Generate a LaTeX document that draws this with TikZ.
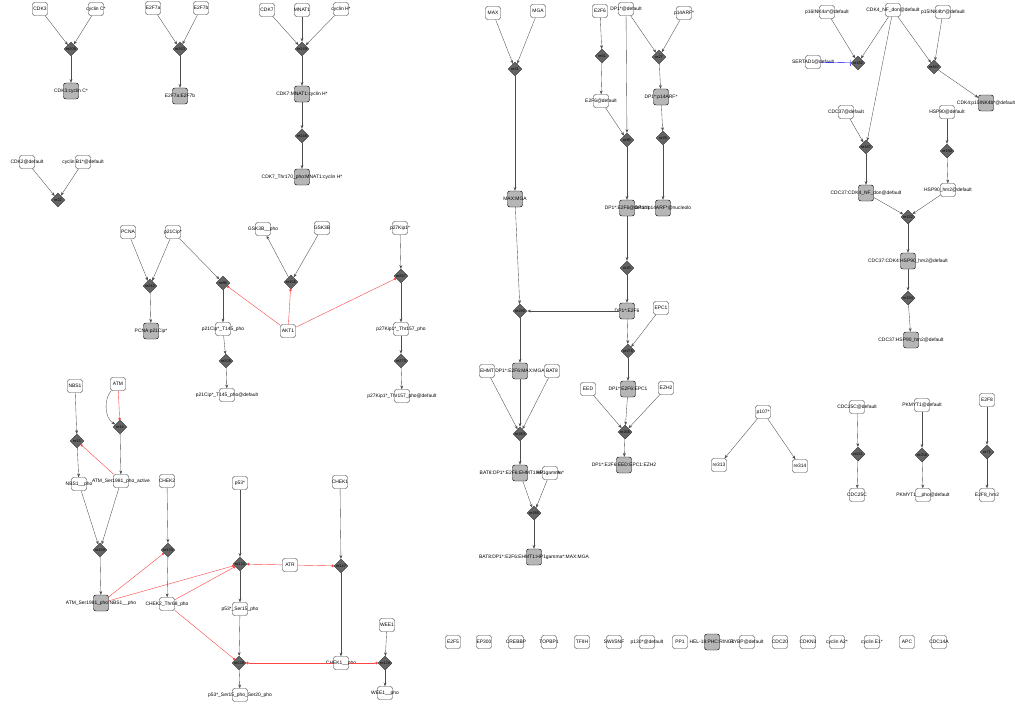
\documentclass[tikz,border=0pt]{standalone}
\usepackage{fontspec}
\setmainfont{Liberation Sans}
\usetikzlibrary{shapes.geometric, arrows.meta}

\definecolor{cpxgray}{RGB}{182,182,182}
\definecolor{rxngray}{RGB}{100,100,100}
\definecolor{catred}{RGB}{255,70,70}

\begin{document}
\begin{tikzpicture}[x=0.03cm, y=-0.03cm, font=\fontsize{4.2}{5}\selectfont,
        spc/.style={rectangle, draw=black!75, fill=white, rounded corners=2pt, line width=0.35pt,
            minimum width=0.45cm, minimum height=0.39cm, inner sep=0pt, label={center:{#1}}},
        cpx/.style={spc=#1, fill=cpxgray, draw=black, minimum height=0.48cm},
        rxn/.style={diamond, draw=black!80, fill=rxngray, minimum size=0.42cm, inner sep=0pt,
            label={[font=\fontsize{3.3}{4}\selectfont]center:{#1}}},
        arr/.style={-{Stealth[length=3.2pt, width=2.4pt]}, draw=black!70, line width=0.3pt},
        cat/.style={-{Circle[length=2.2pt]}, draw=catred, line width=0.35pt},
        inh/.style={-{Bar[width=5pt]}, draw=blue, line width=0.35pt}]

    \useasboundingbox (0,0) rectangle (1015,703);

    % cyclin / CDK complexes, top left
    \node[spc=CDK3] (cdk3) at (40,9) {};
    \node[spc=cyclin C*] (cycc) at (96,9) {};
    \node[rxn=re208] (re208) at (71,49) {};
    \node[cpx=CDK3:cyclin C*] (cdk3cycc) at (71,91) {};

    \node[spc=E2F7a] (e2f7a) at (153,8) {};
    \node[spc=E2F7b] (e2f7b) at (201,8) {};
    \node[rxn=re263] (re263) at (180,49) {};
    \node[cpx=E2F7a:E2F7b] (e2f7ab) at (180,96) {};

    \node[spc=CDK2@default] (cdk2) at (27,162) {};
    \node[spc=cyclin B1*@default] (cycb1) at (83,162) {};
    \node[rxn=re22] (re22) at (58,200) {};

    \node[spc=CDK7] (cdk7) at (267,10) {};
    \node[spc=MNAT1] (mnat1) at (302,10) {};
    \node[spc=cyclin H*] (cych) at (341,9) {};
    \node[rxn=re149] (re149) at (302,49) {};
    \node[cpx=CDK7:MNAT1:cyclin H*] (cak) at (302,94) {};
    \node[rxn=re248] (re248) at (302,136) {};
    \node[cpx=CDK7\_Thr170\_pho:MNAT1:cyclin H*] (cakp) at (302,177) {};

    % CKI and AKT1
    \node[spc=PCNA] (pcna) at (128,232) {};
    \node[spc=p21Cip*] (p21) at (173,232) {};
    \node[rxn=re262] (re262) at (150,286) {};
    \node[cpx=PCNA:p21Cip*] (pcnap21) at (151,331) {};
    \node[rxn=re88] (re88) at (223,283) {};
    \node[spc=p21Cip*\_T145\_pho] (p21p) at (223,329) {};
    \node[rxn=re205] (re205) at (226,361) {};
    \node[spc=p21Cip*\_T145\_pho@default] (p21pd) at (227,395) {};
    \node[spc=GSK3B\_\_pho] (gsk3bp) at (263,229) {};
    \node[spc=GSK3B] (gsk3b) at (322,228) {};
    \node[rxn=re155] (re155) at (291,282) {};
    \node[spc=AKT1] (akt1) at (288,331) {};
    \node[spc=p27Kip1*] (p27) at (400,228) {};
    \node[rxn=re267] (re267) at (401,276) {};
    \node[spc=p27Kip1*\_Thr157\_pho] (p27p) at (401,329) {};
    \node[rxn=re270] (re270) at (401,361) {};
    \node[spc=p27Kip1*\_Thr157\_pho@default] (p27pd) at (402,396) {};

    % DNA damage checkpoint
    \node[spc=NBS1] (nbs1) at (75,386) {};
    \node[spc=ATM] (atm) at (118,384) {};
    \node[rxn=re14] (re14) at (120,427) {};
    \node[rxn=re15] (re15) at (77,441) {};
    \node[spc=NBS1\_\_pho] (nbs1p) at (79,484) {};
    \node[spc=ATM\_Ser1981\_pho\_active] (atma) at (121,481) {};
    \node[spc=CHEK2] (chek2) at (167,481) {};
    \node[rxn=re169] (re169) at (100,550) {};
    \node[rxn=re133] (re133) at (168,550) {};
    \node[cpx=ATM\_Ser1981\_pho:NBS1\_\_pho] (atmnbs) at (101,603) {};
    \node[spc=CHEK2\_Thr68\_pho] (chek2p) at (167,604) {};
    \node[spc=p53*] (p53) at (240,483) {};
    \node[spc=CHEK1] (chek1) at (340,482) {};
    \node[rxn=re132] (re132) at (240,564) {};
    \node[spc=ATR] (atr) at (290,565) {};
    \node[rxn=re147] (re147) at (341,566) {};
    \node[spc=p53*\_Ser15\_pho] (p53p) at (240,609) {};
    \node[spc=WEE1] (wee1) at (387,625) {};
    \node[rxn=re128] (re128) at (239,663) {};
    \node[spc=CHEK1\_\_pho] (chek1p) at (341,663) {};
    \node[rxn=re129] (re129) at (385,663) {};
    \node[spc=p53*\_Ser15\_pho\_Ser20\_pho] (p53pp) at (240,695) {};
    \node[spc=WEE1\_\_pho] (wee1p) at (385,693) {};

    % E2F6 complexes
    \node[spc=MAX] (max) at (493,13) {};
    \node[spc=MGA] (mga) at (538,11) {};
    \node[rxn=re41] (re41) at (515,69) {};
    \node[cpx=MAX:MGA] (maxmga) at (515,199) {};
    \node[spc=E2F6] (e2f6) at (600,11) {};
    \node[spc=DP1*@default] (dp1) at (626,9) {};
    \node[spc=p14ARF*] (p14arf) at (684,13) {};
    \node[rxn=re61] (re61) at (602,56) {};
    \node[rxn=re27] (re27) at (659,57) {};
    \node[spc=E2F6@default] (e2f6d) at (601,101) {};
    \node[cpx=DP1*:p14ARF*] (dp1p14) at (661,97) {};
    \node[rxn=re85] (re85) at (627,140) {};
    \node[rxn=re29] (re29) at (663,138) {};
    \node[cpx=DP1*:E2F6@default] (dp1e2f6d) at (627,208) {};
    \node[cpx=DP1*:p14ARF*@nucleolo] (dp1p14n) at (663,208) {};
    \node[rxn=re25] (re25) at (627,268) {};
    \node[rxn=re290] (re290) at (520,311) {};
    \node[cpx=DP1*:E2F6] (dp1e2f6) at (627,311) {};
    \node[spc=EPC1] (epc1) at (661,308) {};
    \node[rxn=re276] (re276) at (628,351) {};
    \node[spc=EHMT] (ehmt) at (487,371) {};
    \node[cpx=DP1*:E2F6:MAX:MGA] (dmm) at (520,371) {};
    \node[spc=BAT8] (bat8) at (552,371) {};
    \node[spc=EED] (eed) at (588,389) {};
    \node[cpx=DP1*:E2F6:EPC1] (dep) at (628,389) {};
    \node[spc=EZH2] (ezh2) at (666,388) {};
    \node[rxn=re283] (re283) at (520,434) {};
    \node[rxn=re265] (re265) at (625,432) {};
    \node[cpx=BAT8:DP1*:E2F6:EHMT1:MAX:MGA] (bdem) at (520,473) {};
    \node[spc=HP1gamma*] (hp1g) at (550,473) {};
    \node[cpx=DP1*:E2F6:EED:EPC1:EZH2] (prc) at (624,465) {};
    \node[rxn=re285] (re285) at (534,513) {};
    \node[cpx=BAT8:DP1*:E2F6:EHMT1:HP1gamma*:MAX:MGA] (bdemh) at (534,557) {};

    % CDK4 chaperone cycle
    \node[spc=p16INK4a*@default] (p16) at (827,12) {};
    \node[spc=CDK4\_NF\_don@default] (cdk4nf) at (893,10) {};
    \node[spc=p15INK4b*@default] (p15) at (943,12) {};
    \node[spc=SERTAD1@default] (sertad) at (813,62) {};
    \node[rxn=re182] (re182) at (858,63) {};
    \node[rxn=re167] (re167) at (934,67) {};
    \node[cpx=CDK4:p15INK4b*@default] (cdk4p15) at (986,103) {};
    \node[spc=CDC37@default] (cdc37) at (846,112) {};
    \node[spc=HSP90@default] (hsp90) at (947,112) {};
    \node[rxn=re187] (re187) at (866,147) {};
    \node[rxn=re190] (re190) at (947,151) {};
    \node[cpx=CDC37:CDK4\_NF\_don@default] (cdc37cdk4) at (866,193) {};
    \node[spc=HSP90\_hm2@default] (hsp90h) at (948,190) {};
    \node[rxn=re152] (re152) at (908,217) {};
    \node[cpx=CDC37:CDK4:HSP90\_hm2@default] (cch) at (908,261) {};
    \node[rxn=re194] (re194) at (908,298) {};
    \node[cpx=CDC37:HSP90\_hm2@default] (ch) at (911,340) {};

    % small groups, right
    \node[spc=p107*] (p107) at (763,412) {};
    \node[spc=re313] (n313) at (719,465) {};
    \node[spc=re314] (n314) at (800,466) {};
    \node[spc=CDC25C@default] (cdc25cd) at (857,407) {};
    \node[rxn=re211] (re211) at (858,454) {};
    \node[spc=CDC25C] (cdc25c) at (857,495) {};
    \node[spc=PKMYT1@default] (pkmyt1) at (922,405) {};
    \node[rxn=re258] (re258) at (922,455) {};
    \node[spc=PKMYT1\_\_pho@default] (pkmyt1p) at (923,495) {};
    \node[spc=E2F8] (e2f8) at (987,400) {};
    \node[rxn=re71] (re71) at (987,452) {};
    \node[spc=E2F8\_hm2] (e2f8h) at (987,495) {};

    % unconnected species
    \node[spc=E2F5] (e2f5) at (453,642) {};
    \node[spc=EP300] (ep300) at (484,642) {};
    \node[spc=CREBBP] (crebbp) at (516,642) {};
    \node[spc=TOPBP1] (topbp1) at (549,642) {};
    \node[spc=TFIIH] (tfiih) at (582,642) {};
    \node[spc=SWI/SNF] (swisnf) at (614,642) {};
    \node[spc=p130*@default] (p130) at (647,642) {};
    \node[spc=PP1] (pp1) at (680,642) {};
    \node[cpx=HEL-18:PHC:RING1] (phc) at (712,642) {};
    \node[spc=RYBP@default] (rybp) at (747,642) {};
    \node[spc=CDC20] (cdc20) at (780,642) {};
    \node[spc=CDKN3] (cdkn3) at (808,642) {};
    \node[spc=cyclin A2*] (cyca2) at (837,642) {};
    \node[spc=cyclin E1*] (cyce1) at (872,642) {};
    \node[spc=APC] (apc) at (907,642) {};
    \node[spc=CDC14A] (cdc14a) at (939,642) {};

    % reactions
    \draw[arr] (cdk3) -- (re208);
    \draw[arr] (cycc) -- (re208);
    \draw[arr] (re208) -- (cdk3cycc);
    \draw[arr] (e2f7a) -- (re263);
    \draw[arr] (e2f7b) -- (re263);
    \draw[arr] (re263) -- (e2f7ab);
    \draw[arr] (cdk2) -- (re22);
    \draw[arr] (cycb1) -- (re22);
    \draw[arr] (cdk7) -- (re149);
    \draw[arr] (mnat1) -- (re149);
    \draw[arr] (cych) -- (re149);
    \draw[arr] (re149) -- (cak);
    \draw[arr] (cak) -- (re248);
    \draw[arr] (re248) -- (cakp);

    \draw[arr] (pcna) -- (re262);
    \draw[arr] (p21) -- (re262);
    \draw[arr] (re262) -- (pcnap21);
    \draw[arr] (p21) -- (re88);
    \draw[arr] (re88) -- (p21p);
    \draw[arr] (p21p) -- (re205);
    \draw[arr] (re205) -- (p21pd);
    \draw[arr] (gsk3b) -- (re155);
    \draw[arr] (re155) -- (gsk3bp);
    \draw[arr] (p27) -- (re267);
    \draw[arr] (re267) -- (p27p);
    \draw[arr] (p27p) -- (re270);
    \draw[arr] (re270) -- (p27pd);
    \draw[cat] (akt1) -- (re88);
    \draw[cat] (akt1) -- (re155);
    \draw[cat] (akt1) -- (re267);

    \draw[arr] (nbs1) -- (re15);
    \draw[arr] (re15) -- (nbs1p);
    \draw[arr] (atm) .. controls (104,398) and (104,418) .. (re14);
    \draw[cat] (atm) -- (re14);
    \draw[arr] (re14) -- (atma);
    \draw[cat] (atma) -- (re15);
    \draw[arr] (nbs1p) -- (re169);
    \draw[arr] (atma) -- (re169);
    \draw[arr] (re169) -- (atmnbs);
    \draw[arr] (chek2) -- (re133);
    \draw[arr] (re133) -- (chek2p);
    \draw[cat] (atmnbs) -- (re133);
    \draw[cat] (atmnbs) -- (re132);
    \draw[cat] (chek2p) -- (re132);
    \draw[cat] (chek2p) -- (re128);
    \draw[arr] (p53) -- (re132);
    \draw[arr] (re132) -- (p53p);
    \draw[arr] (p53p) -- (re128);
    \draw[arr] (re128) -- (p53pp);
    \draw[cat] (atr) -- (re132);
    \draw[cat] (atr) -- (re147);
    \draw[arr] (chek1) -- (re147);
    \draw[arr] (re147) -- (chek1p);
    \draw[cat] (chek1p) -- (re128);
    \draw[cat] (chek1p) -- (re129);
    \draw[arr] (wee1) -- (re129);
    \draw[arr] (re129) -- (wee1p);

    \draw[arr] (max) -- (re41);
    \draw[arr] (mga) -- (re41);
    \draw[arr] (re41) -- (maxmga);
    \draw[arr] (e2f6) -- (re61);
    \draw[arr] (re61) -- (e2f6d);
    \draw[arr] (e2f6d) -- (re85);
    \draw[arr] (dp1) -- (re85);
    \draw[arr] (dp1) -- (re27);
    \draw[arr] (p14arf) -- (re27);
    \draw[arr] (re27) -- (dp1p14);
    \draw[arr] (dp1p14) -- (re29);
    \draw[arr] (re29) -- (dp1p14n);
    \draw[arr] (re85) -- (dp1e2f6d);
    \draw[arr] (dp1e2f6d) -- (re25);
    \draw[arr] (re25) -- (dp1e2f6);
    \draw[arr] (maxmga) -- (re290);
    \draw[arr] (dp1e2f6) -- (re290);
    \draw[arr] (re290) -- (dmm);
    \draw[arr] (dp1e2f6) -- (re276);
    \draw[arr] (epc1) -- (re276);
    \draw[arr] (re276) -- (dep);
    \draw[arr] (eed) -- (re265);
    \draw[arr] (dep) -- (re265);
    \draw[arr] (ezh2) -- (re265);
    \draw[arr] (re265) -- (prc);
    \draw[arr] (ehmt) -- (re283);
    \draw[arr] (dmm) -- (re283);
    \draw[arr] (bat8) -- (re283);
    \draw[arr] (re283) -- (bdem);
    \draw[arr] (bdem) -- (re285);
    \draw[arr] (hp1g) -- (re285);
    \draw[arr] (re285) -- (bdemh);

    \draw[arr] (p16) -- (re182);
    \draw[arr] (cdk4nf) -- (re182);
    \draw[inh] (sertad) -- (re182);
    \draw[arr] (cdk4nf) -- (re167);
    \draw[arr] (p15) -- (re167);
    \draw[arr] (re167) -- (cdk4p15);
    \draw[arr] (cdk4nf) -- (re187);
    \draw[arr] (cdc37) -- (re187);
    \draw[arr] (re187) -- (cdc37cdk4);
    \draw[arr] (hsp90) -- (re190);
    \draw[arr] (re190) -- (hsp90h);
    \draw[arr] (cdc37cdk4) -- (re152);
    \draw[arr] (hsp90h) -- (re152);
    \draw[arr] (re152) -- (cch);
    \draw[arr] (cch) -- (re194);
    \draw[arr] (re194) -- (ch);

    \draw[arr] (p107) -- (n313);
    \draw[arr] (p107) -- (n314);
    \draw[arr] (cdc25cd) -- (re211);
    \draw[arr] (re211) -- (cdc25c);
    \draw[arr] (pkmyt1) -- (re258);
    \draw[arr] (re258) -- (pkmyt1p);
    \draw[arr] (e2f8) -- (re71);
    \draw[arr] (re71) -- (e2f8h);
\end{tikzpicture}
\end{document}
